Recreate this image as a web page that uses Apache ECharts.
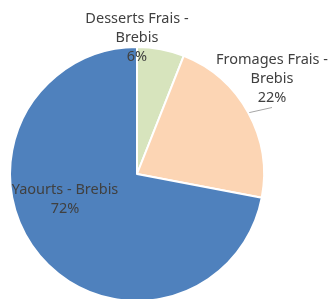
<!DOCTYPE html>
<html><head><meta charset="utf-8">
<script src="https://cdn.jsdelivr.net/npm/echarts@6/dist/echarts.min.js"></script>
<style>html,body{margin:0;padding:0;background:#fff}#c{width:334px;height:299px}</style>
</head><body><div id="c"></div>
<script>
const categories = ['Desserts Frais -\nBrebis', 'Fromages Frais -\nBrebis', 'Yaourts - Brebis'];
const values = [6, 22, 72];
const colors = ['#d7e4bd', '#fcd5b4', '#4f81bd'];
const labelPos = [[137, 38], [272, 79], [65, 199]];

const chart = echarts.init(document.getElementById('c'));
chart.setOption({
  animation: false,
  series: [{
    type: 'pie',
    center: [137, 174],
    radius: 127,
    startAngle: 90,
    clockwise: true,
    avoidLabelOverlap: false,
    itemStyle: { borderColor: '#fff', borderWidth: 2 },
    label: {
      show: true,
      position: 'outside',
      formatter: p => p.name + '\n' + p.value + '%',
      fontFamily: 'Noto Sans',
      fontSize: 14.5,
      lineHeight: 19,
      color: '#404040',
      align: 'center',
      overflow: 'none'
    },
    labelLine: { show: false },
    labelLayout: function (params) {
      const p = labelPos[params.dataIndex];
      return { x: p[0], y: p[1], align: 'center', verticalAlign: 'middle' };
    },
    data: categories.map((c, i) => ({
      name: c, value: values[i], itemStyle: { color: colors[i] },
      labelLine: i === 1 ? { show: true, length: 4, length2: 0, lineStyle: { color: '#a6a6a6', width: 1 } } : { show: false }
    }))
  }]
});
</script></body></html>
